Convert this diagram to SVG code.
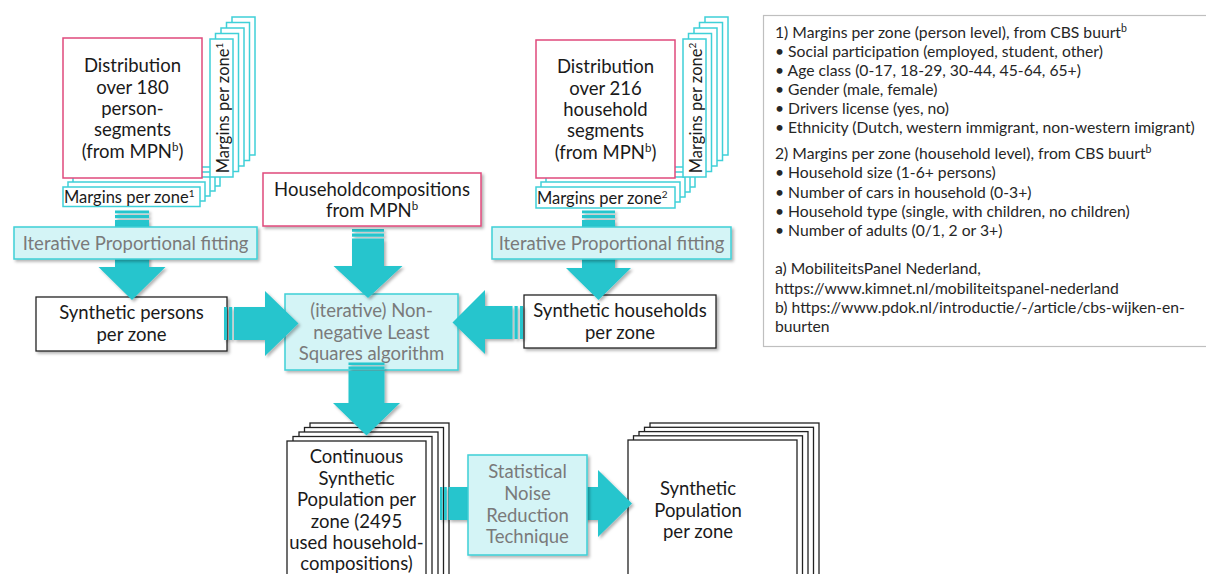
<svg xmlns="http://www.w3.org/2000/svg" width="1206" height="574" viewBox="0 0 1206 574">
<defs>
<filter id="sh" x="-10%" y="-10%" width="130%" height="130%"><feDropShadow dx="2" dy="2" stdDeviation="1.5" flood-color="#000" flood-opacity="0.3"/></filter>
<style>
text{font-family:Lato,"Open Sans","Liberation Sans",sans-serif;fill:#1a1a1a}
.c{text-anchor:middle}
.t18{font-size:18.5px}
.g{fill:#7a7a7a}
.pink{fill:#fff;stroke:#df4a7c;stroke-width:1.5}
.marg{fill:#fff;stroke:#3fd0d8;stroke-width:1.5}
.blk{fill:#fff;stroke:#222;stroke-width:1.3}
.proc{fill:#d4f4f6;stroke:#3ecfd6;stroke-width:1.5}
.arr{fill:#25c5cd}
.leg{font-size:15.7px;fill:#262626}
.m{font-size:16.5px}
</style>
</defs>

<g id="legend">
<rect x="763.5" y="15.5" width="450" height="331" fill="#fff" stroke="#bfbfbf" stroke-width="1.2"/>
<text class="leg" x="775" y="38">1) Margins per zone (person level), from CBS buurt<tspan font-size="10.5" dy="-6">b</tspan></text>
<text class="leg" x="775" y="57">• Social participation (employed, student, other)</text>
<text class="leg" x="775" y="75.5">• Age class (0-17, 18-29, 30-44, 45-64, 65+)</text>
<text class="leg" x="775" y="94.5">• Gender (male, female)</text>
<text class="leg" x="775" y="113.5">• Drivers license (yes, no)</text>
<text class="leg" x="775" y="133">• Ethnicity (Dutch, western immigrant, non-western imigrant)</text>
<text class="leg" x="775" y="159">2) Margins per zone (household level), from CBS buurt<tspan font-size="10.5" dy="-6">b</tspan></text>
<text class="leg" x="775" y="178">• Household size (1-6+ persons)</text>
<text class="leg" x="775" y="197.5">• Number of cars in household (0-3+)</text>
<text class="leg" x="775" y="217">• Household type (single, with children, no children)</text>
<text class="leg" x="775" y="236">• Number of adults (0/1, 2 or 3+)</text>
<text class="leg" x="775" y="274">a) MobiliteitsPanel Nederland,</text>
<text class="leg" x="775" y="293.5">https://www.kimnet.nl/mobiliteitspanel-nederland</text>
<text class="leg" x="775" y="313">b) https://www.pdok.nl/introductie/-/article/cbs-wijken-en-</text>
<text class="leg" x="775" y="332">buurten</text>
</g>

<g id="nnls">
<rect class="proc" x="285" y="294" width="173" height="76" filter="url(#sh)"/>
<text class="c t18 g" x="371.5" y="317">(iterative) Non-</text>
<text class="c t18 g" x="371.5" y="338.5">negative Least</text>
<text class="c t18 g" x="371.5" y="360">Squares algorithm</text>
</g>

<g id="continuous-population">
<rect class="blk" x="310" y="423" width="139" height="200"/>
<rect class="blk" x="304.5" y="427.5" width="139" height="200"/>
<rect class="blk" x="299" y="432" width="139" height="200"/>
<rect class="blk" x="293" y="436.5" width="139" height="200"/>
<rect class="blk" x="287" y="441" width="139" height="200"/>
<text class="c t18" x="356.5" y="463">Continuous</text>
<text class="c t18" x="356.5" y="484.5">Synthetic</text>
<text class="c t18" x="356.5" y="506">Population per</text>
<text class="c t18" x="356.5" y="527.5">zone (2495</text>
<text class="c t18" x="356.5" y="549">used household-</text>
<text class="c t18" x="356.5" y="570">compositions)</text>
</g>

<g id="synthetic-population">
<rect class="blk" x="650" y="423" width="169" height="200"/>
<rect class="blk" x="644.5" y="427.3" width="169" height="200"/>
<rect class="blk" x="639" y="431.6" width="169" height="200"/>
<rect class="blk" x="633.5" y="435.8" width="169" height="200"/>
<rect class="blk" x="628" y="440" width="169" height="200"/>
<text class="c t18" x="698" y="495">Synthetic</text>
<text class="c t18" x="698" y="516.5">Population</text>
<text class="c t18" x="698" y="538">per zone</text>
</g>

<g id="synthetic-persons">
<rect class="blk" x="36" y="297" width="191" height="54" filter="url(#sh)"/>
<text class="c t18" x="131.5" y="319">Synthetic persons</text>
<text class="c t18" x="131.5" y="340.5">per zone</text>
</g>

<g id="synthetic-households">
<rect class="blk" x="524" y="295" width="192" height="53" filter="url(#sh)"/>
<text class="c t18" x="620" y="317">Synthetic households</text>
<text class="c t18" x="620" y="338.5">per zone</text>
</g>

<g id="connectors" filter="url(#sh)">
<rect class="arr" x="115" y="210.5" width="34" height="2.8"/>
<rect class="arr" x="115" y="215" width="34" height="3.2"/>
<path class="arr" d="M115,220 H149 V267 H165.5 L132,300 L98.5,267 H115 Z"/>
<rect class="arr" x="582" y="210.5" width="33" height="2.8"/>
<rect class="arr" x="582" y="215" width="33" height="3.2"/>
<path class="arr" d="M582,220 H615 V268 H631 L598.5,300 L566,268 H582 Z"/>
<rect class="arr" x="352" y="229" width="32" height="2.8"/>
<rect class="arr" x="352" y="233.5" width="32" height="3.2"/>
<path class="arr" d="M352,238.5 H384 V266 H402.5 L368,298 L333.5,266 H352 Z"/>
<rect class="arr" x="224" y="307" width="3" height="33"/>
<rect class="arr" x="229" y="307" width="3.2" height="33"/>
<path class="arr" d="M234,307 V340 H265 V356 L298.5,323.5 L265,291 V307 Z"/>
<rect class="arr" x="520" y="306" width="3" height="33"/>
<rect class="arr" x="514.5" y="306" width="3.2" height="33"/>
<path class="arr" d="M512.5,306 V339 H485 V354 L452.5,322.5 L485,290 V306 Z"/>
<rect class="arr" x="348.5" y="362.5" width="36" height="2.5"/>
<rect class="arr" x="348.5" y="366.5" width="36" height="2.8"/>
<path class="arr" d="M348.5,371 H384.5 V403 H400 L366.5,435.5 L333,403 H348.5 Z"/>
<rect class="arr" x="440" y="487" width="2.5" height="33"/>
<rect class="arr" x="444" y="487" width="2.8" height="33"/>
<path class="arr" d="M448.5,487 H598 V470 L632,503.5 L598,537 V520 H448.5 Z"/>
</g>

<g id="ipf-persons">
<rect class="proc" x="14" y="227" width="243" height="32" filter="url(#sh)"/>
<text class="c t18 g" x="135.5" y="249.5">Iterative Proportional fitting</text>
</g>

<g id="ipf-households">
<rect class="proc" x="492" y="227" width="239" height="32" filter="url(#sh)"/>
<text class="c t18 g" x="611.5" y="249.5">Iterative Proportional fitting</text>
</g>

<g id="noise-reduction">
<rect class="proc" x="468" y="455" width="119" height="100" filter="url(#sh)"/>
<text class="c t18 g" x="527.5" y="478">Statistical</text>
<text class="c t18 g" x="527.5" y="499.5">Noise</text>
<text class="c t18 g" x="527.5" y="521.5">Reduction</text>
<text class="c t18 g" x="527.5" y="543">Technique</text>
</g>

<g id="householdcompositions">
<rect class="pink" x="263" y="173" width="218" height="53" filter="url(#sh)"/>
<text class="c t18" x="372" y="195.5">Householdcompositions</text>
<text class="c t18" x="372" y="217">from MPN<tspan font-size="11.5" dy="-7">b</tspan></text>
</g>

<g id="person-distribution">
<rect class="marg" x="232" y="17" width="23" height="138"/>
<rect class="marg" x="226.5" y="22.5" width="23" height="138"/>
<rect class="marg" x="221" y="28" width="23" height="138"/>
<rect class="marg" x="215.5" y="33.5" width="23" height="138"/>
<rect class="marg" x="83" y="167" width="137" height="19"/>
<rect class="marg" x="78" y="172" width="137" height="19"/>
<rect class="marg" x="73" y="177" width="137" height="19"/>
<rect class="marg" x="68" y="182" width="137" height="19"/>
<rect class="marg" x="210" y="39" width="23" height="138"/>
<text class="c m" transform="translate(228.5,108) rotate(-90)">Margins per zone<tspan font-size="10" dy="-6">1</tspan></text>
<rect class="marg" x="63" y="187" width="137" height="19.5"/>
<text class="m" x="64" y="202.5">Margins per zone<tspan font-size="10" dy="-6">1</tspan></text>
<rect class="pink" x="63" y="38" width="139" height="140"/>
<text class="c t18" x="132.5" y="72">Distribution</text>
<text class="c t18" x="132.5" y="93.5">over 180</text>
<text class="c t18" x="132.5" y="114.5">person-</text>
<text class="c t18" x="132.5" y="136">segments</text>
<text class="c t18" x="132.5" y="157.5">(from MPN<tspan font-size="11.5" dy="-7">b</tspan><tspan dy="7">)</tspan></text>
</g>

<g id="household-distribution">
<rect class="marg" x="705" y="17" width="23" height="138"/>
<rect class="marg" x="699.5" y="22.5" width="23" height="138"/>
<rect class="marg" x="694" y="28" width="23" height="138"/>
<rect class="marg" x="688.5" y="33.5" width="23" height="138"/>
<rect class="marg" x="556" y="167" width="139" height="20"/>
<rect class="marg" x="551" y="172" width="139" height="20"/>
<rect class="marg" x="546" y="177" width="139" height="20"/>
<rect class="marg" x="541" y="182" width="139" height="20"/>
<rect class="marg" x="683" y="39" width="23" height="138"/>
<text class="c m" transform="translate(701.5,108) rotate(-90)">Margins per zone<tspan font-size="10" dy="-6">2</tspan></text>
<rect class="marg" x="536" y="187" width="139" height="21"/>
<text class="m" x="537" y="203.5">Margins per zone<tspan font-size="10" dy="-6">2</tspan></text>
<rect class="pink" x="536" y="40" width="139" height="138"/>
<text class="c t18" x="605.5" y="73">Distribution</text>
<text class="c t18" x="605.5" y="94.5">over 216</text>
<text class="c t18" x="605.5" y="115.5">household</text>
<text class="c t18" x="605.5" y="137">segments</text>
<text class="c t18" x="605.5" y="158.5">(from MPN<tspan font-size="11.5" dy="-7">b</tspan><tspan dy="7">)</tspan></text>
</g>
</svg>
